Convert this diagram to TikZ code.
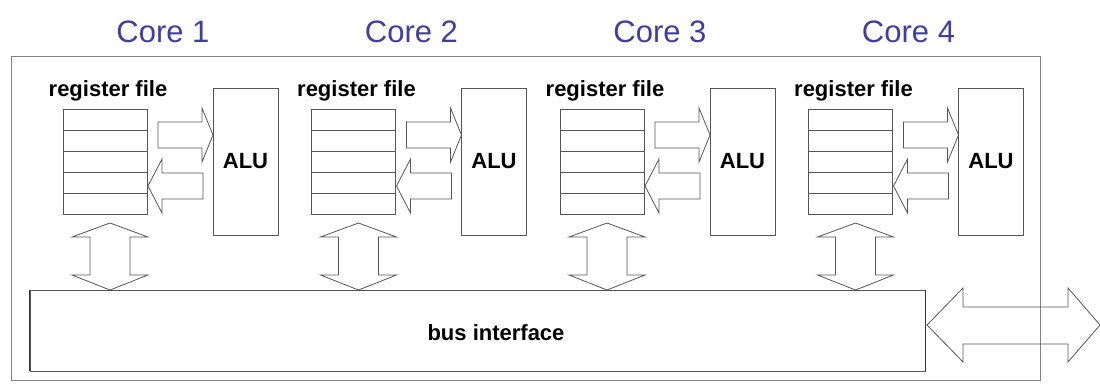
\documentclass[tikz,border=0pt]{standalone}
\usepackage{fontspec}
\setmainfont{Liberation Sans}
\usetikzlibrary{positioning}
\definecolor{coreblue}{RGB}{62,62,160}
\definecolor{linegray}{RGB}{85,85,85}
\tikzset{
	box/.style={draw=linegray,line width=0.9pt},
	blockarrow/.style={draw=linegray,line width=0.8pt,fill=white},
	corelbl/.style={text=coreblue,font=\fontsize{31}{31}\selectfont,inner sep=0pt},
	boldlbl/.style={font=\fontsize{22}{22}\selectfont\bfseries,inner sep=0pt}
}

\begin{document}
\begin{tikzpicture}[x=1pt,y=-1pt]
			\useasboundingbox (0,0) rectangle (1100,383);
			\draw[color=gray,line width=1pt] (11,56) rectangle (1040,380);
			\foreach \i in {1,...,4} {
				\begin{scope}[xshift={63+248.5*(\i-1)}]
					\node[corelbl,anchor=base] (core\i) at (100,42) {Core \i};
					\node[boldlbl,anchor=base] (rf\i) at (45,96) {register file};
					\draw[box] (0,109) rectangle (84,214);
					\foreach \r in {1,...,4} \draw[box] (0,109+21*\r) -- (84,109+21*\r);
					\node[box,minimum width=65pt,minimum height=147pt,inner sep=0pt,
						font=\fontsize{22}{22}\selectfont\bfseries] (alu\i) at (182.5,161.5) {ALU};
					\draw[blockarrow] (95,122) -- (139,122) -- (139,108) -- (150,135)
						-- (139,162) -- (139,148) -- (95,148) -- cycle;
					\draw[blockarrow] (140,173) -- (99,173) -- (99,159) -- (85,186)
						-- (99,213) -- (99,199) -- (140,199) -- cycle;
					\draw[blockarrow] (47,223) -- (85,237) -- (67,237) -- (67,275) -- (85,275)
						-- (47,290) -- (9,275) -- (27,275) -- (27,237) -- (9,237) -- cycle;
				\end{scope}
			}
			\node[box,minimum width=895pt,minimum height=81pt,inner sep=0pt] (bus) at (477.5,330.5) {};
			\draw[line width=1.6pt,color=black!80] (bus.north west) -- (bus.south west);
			\draw[line width=1.6pt,color=black!80] (bus.north east) -- (bus.south east);
			\node[boldlbl,anchor=base] (buslbl) at (496,340) {bus interface};
			\draw[blockarrow,fill=none] (927,325) -- (963,288) -- (963,307) -- (1068,307) -- (1068,288)
				-- (1100,325) -- (1068,362) -- (1068,344) -- (963,344) -- (963,362) -- cycle;
		\end{tikzpicture}
\end{document}
